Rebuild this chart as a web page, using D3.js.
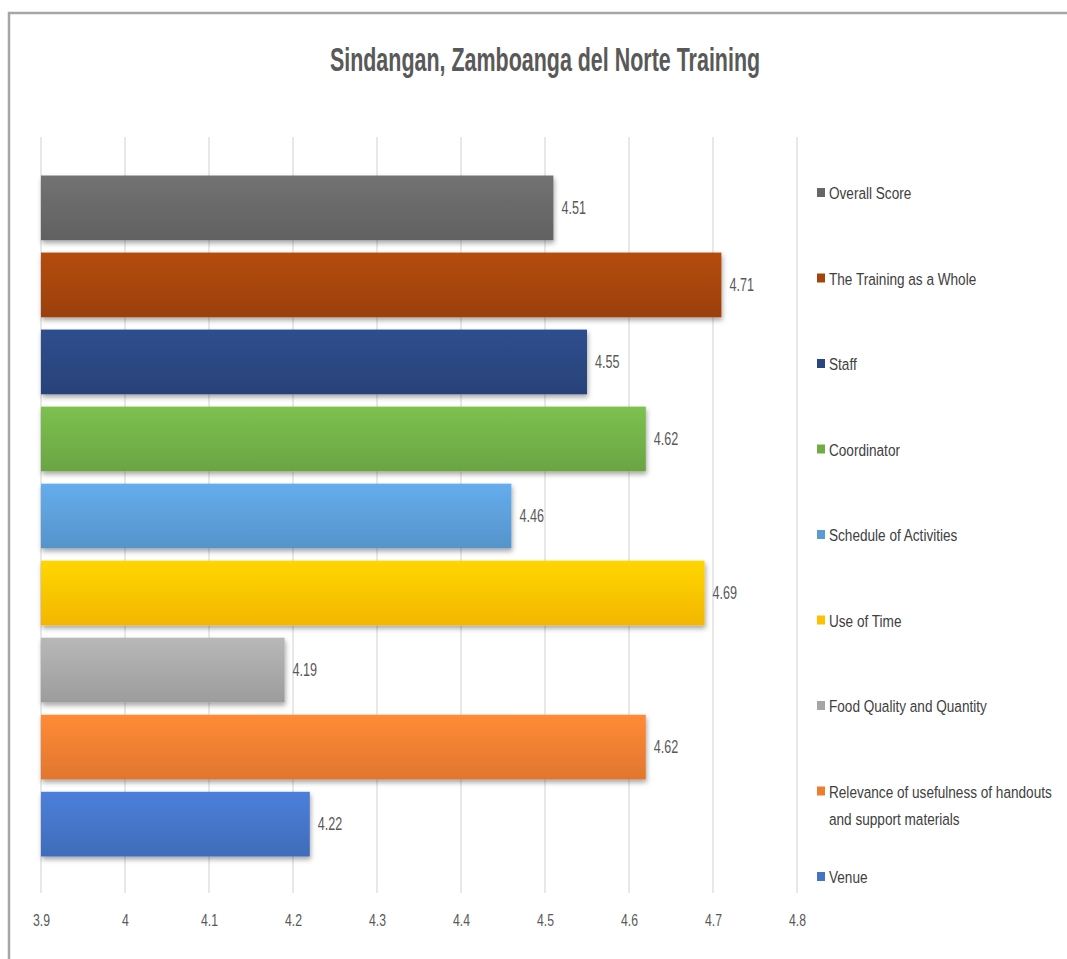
<!DOCTYPE html>
<html>
<head>
<meta charset="utf-8">
<script src="https://cdn.jsdelivr.net/npm/d3@7"></script>
<style>
  body { margin: 0; background: #fff; }
  text { font-family: "Liberation Sans Narrow", "Arial Narrow", "Liberation Sans", sans-serif; }
</style>
</head>
<body>
<script>
var categories = [
  "Overall Score",
  "The Training as a Whole",
  "Staff",
  "Coordinator",
  "Schedule of Activities",
  "Use of Time",
  "Food Quality and Quantity",
  "Relevance of usefulness of handouts and support materials",
  "Venue"
];
var scores = [4.51, 4.71, 4.55, 4.62, 4.46, 4.69, 4.19, 4.62, 4.22];
var tickValues = [3.9, 4, 4.1, 4.2, 4.3, 4.4, 4.5, 4.6, 4.7, 4.8];
var colors = ["#666666", "#a3440c", "#2a4680", "#70ad47", "#5b9bd5", "#ffc000", "#a5a5a5", "#ed7d31", "#4472c4"];
var legendLines = [
  ["Overall Score"],
  ["The Training as a Whole"],
  ["Staff"],
  ["Coordinator"],
  ["Schedule of Activities"],
  ["Use of Time"],
  ["Food Quality and Quantity"],
  ["Relevance of usefulness of handouts", "and support materials"],
  ["Venue"]
];

var width = 1067,
    height = 959;

var svg = d3.select("body").append("svg")
    .attr("width", width)
    .attr("height", height);

var defs = svg.append("defs");

// gradient per bar, lighter on top
colors.forEach(function(c, i) {
  var g = defs.append("linearGradient")
      .attr("id", "grad" + i)
      .attr("x1", 0).attr("y1", 0).attr("x2", 0).attr("y2", 1);
  g.append("stop").attr("offset", "0%").attr("stop-color", d3.color(c).brighter(0.3));
  g.append("stop").attr("offset", "100%").attr("stop-color", d3.color(c).darker(0.15));
});

var shadow = defs.append("filter").attr("id", "shadow")
    .attr("x", "-5%").attr("y", "-20%").attr("width", "110%").attr("height", "150%");
shadow.append("feDropShadow")
    .attr("dx", 1).attr("dy", 3).attr("stdDeviation", 2.5)
    .attr("flood-color", "#000").attr("flood-opacity", 0.35);

// frame
svg.append("path")
    .attr("d", "M9," + height + "V13H" + width)
    .attr("fill", "none")
    .attr("stroke", "#a6a6a6")
    .attr("stroke-width", 2.5);

// the original uses a condensed font, so text gets squeezed horizontally
svg.append("text")
    .attr("transform", "translate(545,71) scale(0.65,1)")
    .attr("text-anchor", "middle")
    .style("font-size", "33px")
    .style("font-weight", "bold")
    .style("fill", "#595959")
    .text("Sindangan, Zamboanga del Norte Training");

var x = d3.scaleLinear()
    .domain([3.9, 4.8])
    .range([41, 797]);

var y = d3.scaleBand()
    .domain(categories)
    .range([137, 895])
    .paddingInner(0.16)
    .paddingOuter(0.5);

// gridlines
svg.append("g")
  .selectAll("line")
  .data(tickValues)
  .enter().append("line")
    .attr("x1", function(d) { return x(d); })
    .attr("x2", function(d) { return x(d); })
    .attr("y1", 137)
    .attr("y2", 893)
    .attr("stroke", "#d9d9d9")
    .attr("stroke-width", 1.2);

// axis labels
var axis = svg.append("g")
    .attr("transform", "translate(0,893)")
    .call(d3.axisBottom(x).tickValues(tickValues).tickSize(0).tickPadding(21).tickFormat(d3.format("")));
axis.select(".domain").remove();
axis.attr("font-family", null);
axis.selectAll("text")
    .attr("transform", "scale(0.72,1)")
    .style("font-size", "17px")
    .style("fill", "#595959");

var bars = svg.append("g")
  .selectAll("g")
  .data(categories)
  .enter().append("g");

bars.append("rect")
    .attr("x", x(3.9))
    .attr("y", function(d) { return y(d); })
    .attr("width", function(d, i) { return x(scores[i]) - x(3.9); })
    .attr("height", y.bandwidth())
    .attr("fill", function(d, i) { return "url(#grad" + i + ")"; })
    .attr("filter", "url(#shadow)");

bars.append("text")
    .attr("transform", function(d, i) {
      return "translate(" + (x(scores[i]) + 8) + "," + (y(d) + y.bandwidth() / 2 + 6) + ") scale(0.7,1)";
    })
    .style("font-size", "18px")
    .style("fill", "#595959")
    .text(function(d, i) { return scores[i]; });

// legend
var ly = d3.scalePoint()
    .domain(categories)
    .range([193, 877]);

var legend = svg.append("g")
  .selectAll("g")
  .data(categories)
  .enter().append("g")
    .attr("transform", function(d) { return "translate(817," + ly(d) + ")"; });

legend.append("rect")
    .attr("x", 0)
    .attr("y", -5)
    .attr("width", 8)
    .attr("height", 9)
    .attr("fill", function(d, i) { return colors[i]; });

legend.append("text")
    .attr("transform", "translate(12,6) scale(0.8,1)")
    .style("font-size", "17px")
    .style("fill", "#404040")
    .selectAll("tspan")
    .data(function(d, i) { return legendLines[i]; })
    .enter().append("tspan")
      .attr("x", 0)
      .attr("dy", function(d, j) { return j === 0 ? 0 : 28; })
      .text(function(d) { return d; });
</script>
</body>
</html>
